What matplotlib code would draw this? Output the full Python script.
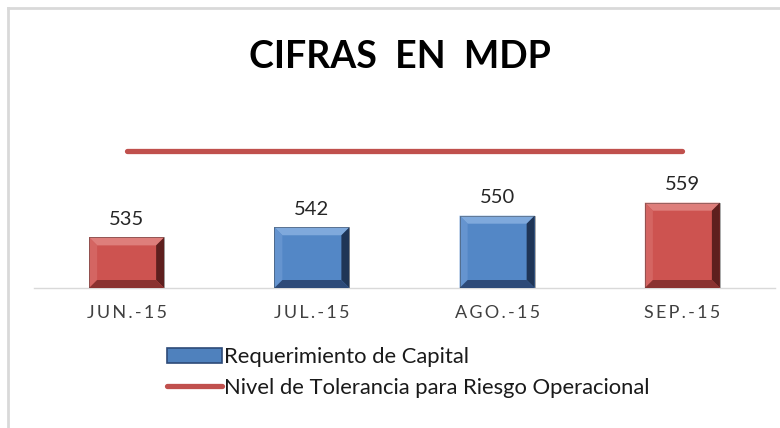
import matplotlib
matplotlib.use("Agg")
import matplotlib.pyplot as plt
from matplotlib.patches import Polygon, Rectangle
from matplotlib.lines import Line2D

categories = ["JUN.-15", "JUL.-15", "AGO.-15", "SEP.-15"]
capital = [535, 542, 550, 559]
tolerance = [595, 595, 595, 595]
bar_kind = ["red", "blue", "blue", "red"]
title = "CIFRAS  EN  MDP"
legend_labels = ["Requerimiento de Capital", "Nivel de Tolerancia para Riesgo Operacional"]

plt.rcParams['font.family'] = ['Lato', 'DejaVu Sans']

palette = {
    "red": dict(face="#CD5350", top="#DE7E7B", left="#D46562", right="#5E1F1E", bottom="#8A3230"),
    "blue": dict(face="#5387C6", top="#7FA9DC", left="#6594CF", right="#1F3556", bottom="#2D4A78"),
}
line_color = "#C0504D"

W, H = 780, 428
fig = plt.figure(figsize=(W/100, H/100), dpi=100)
ax = fig.add_axes([34/W, 1-288/H, 741/W, 159/H])
ymin = 500
ymax = ymin + 159/1.446
ax.set_ylim(ymin, ymax)
ax.set_xlim(-0.5, len(categories)-0.5)

x = list(range(len(categories)))
bar_width = 0.405
bars = ax.bar(x, [v - ymin for v in capital], bottom=ymin, width=bar_width,
              color=[palette[k]["face"] for k in bar_kind], zorder=2, linewidth=0)

# bevel effect
px_per_x = 741 / len(categories)
px_per_y = 159 / (ymax - ymin)
b = 8
bx = b / px_per_x
by = b / px_per_y
for rect, kind in zip(bars, bar_kind):
    c = palette[kind]
    x0, y0 = rect.get_x(), rect.get_y()
    x1, y1 = x0 + rect.get_width(), y0 + rect.get_height()
    ix0, ix1, iy0, iy1 = x0 + bx, x1 - bx, y0 + by, y1 - by
    polys = [
        ([(x0, y1), (x1, y1), (ix1, iy1), (ix0, iy1)], c["top"]),
        ([(x0, y0), (x0, y1), (ix0, iy1), (ix0, iy0)], c["left"]),
        ([(x1, y0), (x1, y1), (ix1, iy1), (ix1, iy0)], c["right"]),
        ([(x0, y0), (x1, y0), (ix1, iy0), (ix0, iy0)], c["bottom"]),
    ]
    for pts, col in polys:
        ax.add_patch(Polygon(pts, closed=True, facecolor=col, edgecolor="none", zorder=3))
    ax.add_patch(Rectangle((x0, y0), x1-x0, y1-y0, fill=False, edgecolor="#3a3a3a",
                           linewidth=0.6, alpha=0.5, zorder=4))

for xi, v in zip(x, capital):
    ax.text(xi, v + 6.5, f"{v}", ha="center", va="bottom", fontsize=14.5, color="#262626")

ax.plot(x, tolerance, color=line_color, linewidth=3.8, solid_capstyle="round", zorder=3)

for s in ["top", "right", "left"]:
    ax.spines[s].set_visible(False)
ax.spines["bottom"].set_color("#D9D9D9")
ax.spines["bottom"].set_linewidth(1.0)
ax.set_yticks([])
ax.set_xticks(x)
ax.set_xticklabels(["\u2009".join(c) for c in categories], fontsize=13, color="#404040")
ax.tick_params(axis="x", length=0, pad=12)

fig.text(0.513, 1-57/H, title, ha="center", va="center", fontsize=27, fontweight="bold", color="black")

# border
fig.add_artist(Line2D([8/W, 8/W], [0, 1-8/H], color="#D9D9D9", linewidth=2))
fig.add_artist(Line2D([8/W, 1], [1-8/H, 1-8/H], color="#D9D9D9", linewidth=2))

handles = [Rectangle((0, 0), 1, 1, facecolor="#4F81BD", edgecolor="#2D4A78", linewidth=1.2),
           Line2D([], [], color=line_color, linewidth=3.8, solid_capstyle="round")]
fig.legend(handles, legend_labels, loc="upper left", bbox_to_anchor=(167/W, 1-347/H),
           frameon=False, fontsize=15.8, handlelength=2.5, handleheight=0.65,
           handletextpad=0.12, labelspacing=0.5, borderpad=0, borderaxespad=0, labelcolor="#1a1a1a")

fig.savefig("out.png", dpi=100)
